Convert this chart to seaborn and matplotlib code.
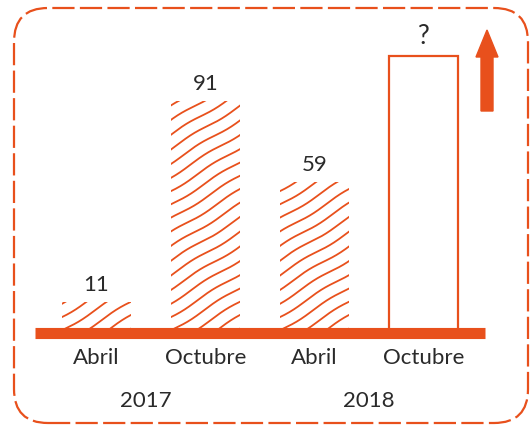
import numpy as np
import pandas as pd
import matplotlib
matplotlib.use("Agg")
import matplotlib.pyplot as plt
import seaborn as sns
from matplotlib.patches import FancyBboxPatch, FancyArrow
from matplotlib.transforms import IdentityTransform, blended_transform_factory

# ---- data ----
months = ["Abril", "Octubre", "Abril", "Octubre"]
years = ["2017", "2018"]
categories = ["Abril 2017", "Octubre 2017", "Abril 2018", "Octubre 2018"]
values = [11, 91, 59, 109]          # last bar height is the unknown ("?") bar
value_labels = ["11", "91", "59", "?"]

ORANGE = "#E8501C"
TEXT = "#2a2a2a"

sns.set_theme(style="white")
plt.rcParams['font.family'] = ['Lato', 'DejaVu Sans']

W, H = 530, 426
fig = plt.figure(figsize=(W / 100, H / 100), dpi=100)
fig.patch.set_facecolor("white")

# axes: x pixels 35..485, y=0 at pixel 330 (from top), top at 28
ax = fig.add_axes([35 / W, (H - 330) / H, 450 / W, 302 / H])
ax.set_facecolor("none")

df = pd.DataFrame({"cat": categories, "value": values})
sns.barplot(data=df, x="cat", y="value", order=categories, color="white",
            width=0.63, ax=ax, saturation=1)
ax.set_xlim(-0.564, 3.564)
ax.set_ylim(0, 120)
for s in ax.spines.values():
    s.set_visible(False)
ax.set_yticks([])
ax.set_xlabel("")
ax.set_ylabel("")
ax.set_xticks(range(len(categories)))
ax.set_xticklabels(months, fontsize=16, color=TEXT)
ax.tick_params(axis="x", length=0, pad=13)

bars = ax.patches[:len(categories)]
for i, b in enumerate(bars):
    b.set_facecolor("white")
    if i < 3:
        b.set_edgecolor("none")
        b.set_linewidth(0)
    else:
        b.set_edgecolor(ORANGE)
        b.set_linewidth(1.6)

# wavy hatching inside the first three bars (display/pixel coordinates)
for b in bars[:3]:
    x0, y0 = ax.transData.transform((b.get_x(), 0))
    x1, y1 = ax.transData.transform((b.get_x() + b.get_width(), b.get_height()))
    xs = np.linspace(x0 - 5, x1 + 5, 200)
    slope = 0.62
    spacing = 14
    start = y0 - slope * (x1 - x0) - spacing
    k = 0
    c = start
    while c < y1 + spacing:
        ys = (c + slope * (xs - x0)
              + 1.3 * np.sin((xs - x0) / 60.0 * 2 * np.pi + k * 0.7))
        ln, = ax.plot(xs, ys, color=ORANGE, lw=1.3, transform=IdentityTransform())
        ln.set_clip_path(b)
        c += spacing
        k += 1

# value labels
for b, lab in zip(bars, value_labels):
    ax.annotate(lab, (b.get_x() + b.get_width() / 2, b.get_height()),
                xytext=(0, 5), textcoords="offset points", ha="center",
                va="bottom", fontsize=19 if lab == "?" else 16, color=TEXT)

# thick base line
ax.plot([-0.564, 3.564], [-1, -1], color=ORANGE, lw=8, solid_capstyle="butt",
        clip_on=False, zorder=5)

# year labels
trans = blended_transform_factory(ax.transData, fig.transFigure)
ax.text(0.45, (H - 401) / H, years[0], transform=trans, ha="center", va="center",
        fontsize=16, color=TEXT)
ax.text(2.5, (H - 401) / H, years[1], transform=trans, ha="center", va="center",
        fontsize=16, color=TEXT)

# upward arrow
arrow = FancyArrow(487, H - 111, 0, 111 - 30, width=12, head_width=22,
                   head_length=27, length_includes_head=True, color=ORANGE,
                   transform=IdentityTransform())
fig.patches.append(arrow)

# dashed rounded frame
frame = FancyBboxPatch((14, 3), 514, 415, boxstyle="round,pad=0,rounding_size=34",
                       fill=False, edgecolor=ORANGE, lw=1.6, linestyle=(0, (10, 2.4)),
                       transform=IdentityTransform())
fig.patches.append(frame)

fig.savefig("out.png", dpi=100)
